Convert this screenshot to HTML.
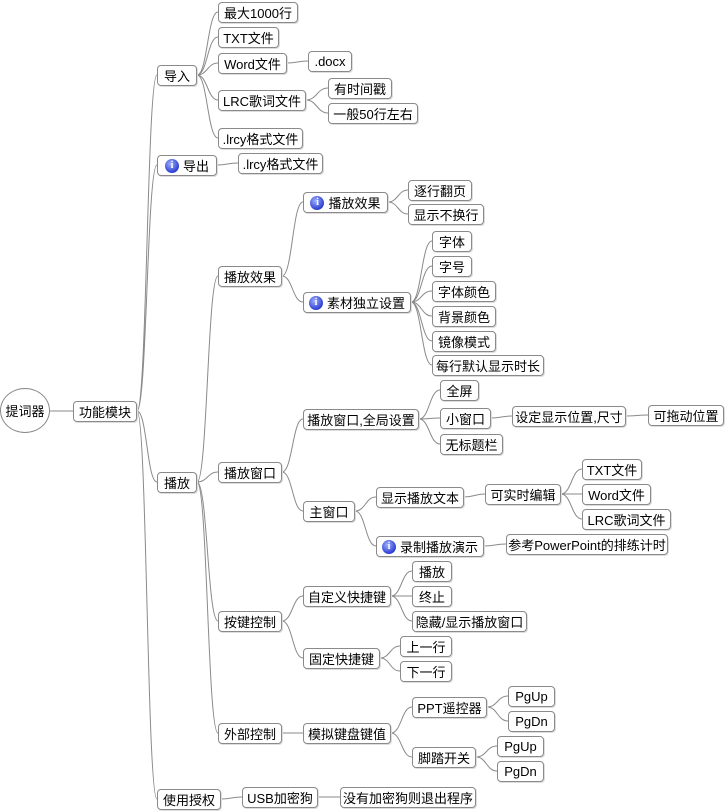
<!DOCTYPE html>
<html><head><meta charset="utf-8">
<style>
html,body{margin:0;padding:0;background:#fff;}
#c{position:relative;width:725px;height:811px;overflow:hidden;font-family:"Liberation Sans","Noto Sans CJK SC",sans-serif;font-size:13px;color:#000;}
.n{position:absolute;height:21px;border:1px solid #8a8a8a;border-radius:4px;background:#fff;box-sizing:border-box;display:flex;align-items:center;justify-content:center;white-space:nowrap;box-shadow:1px 1px 0 #ddd;}
.i{display:inline-block;width:14px;height:14px;border-radius:50%;background:radial-gradient(circle at 40% 35%,#9fb0ff,#2d3fd0 70%);color:#fff;font:bold 10px "Liberation Serif",serif;line-height:14px;text-align:center;margin-right:4px;}
.root{position:absolute;left:0;top:388px;width:50px;height:45px;border:1px solid #888;border-radius:50%;box-sizing:border-box;display:flex;align-items:center;justify-content:center;font-size:13px;background:#fff;}
svg{position:absolute;left:0;top:0;}
</style></head><body>
<div id="c">
<svg id="s" width="725" height="811"></svg>
<div class="root">提词器</div>
</div>
<script>
var N=[
["功能模块",73,137,411,-1],
["导入",157,197,75,0],
["导出",157,217,165,0,1],
["播放",157,197,482,0],
["使用授权",157,221,799,0],
["最大1000行",218,298,12,1],
["TXT文件",218,279,37,1],
["Word文件",218,287,63,1],
["LRC歌词文件",218,306,100,1],
[".lrcy格式文件",218,303,138,1],
[".docx",308,352,61,7],
["有时间戳",328,392,88,8],
["一般50行左右",328,418,113,8],
[".lrcy格式文件",238,323,163,2],
["播放效果",218,282,276,3],
["播放窗口",218,282,472,3],
["按键控制",218,282,621,3],
["外部控制",218,282,733,3],
["播放效果",303,388,202,14,1],
["素材独立设置",303,411,302,14,1],
["逐行翻页",408,472,190,18],
["显示不换行",408,484,214,18],
["字体",432,472,241,19],
["字号",432,472,266,19],
["字体颜色",432,496,291,19],
["背景颜色",432,496,316,19],
["镜像模式",432,496,341,19],
["每行默认显示时长",432,544,365,19],
["播放窗口,全局设置",303,419,419,15],
["主窗口",303,355,511,15],
["全屏",440,479,390,28],
["小窗口",440,491,418,28],
["无标题栏",440,503,444,28],
["设定显示位置,尺寸",512,626,416,31],
["可拖动位置",648,724,415,33],
["显示播放文本",376,464,497,29],
["录制播放演示",376,484,546,29,1],
["可实时编辑",485,561,494,35],
["TXT文件",582,642,469,37],
["Word文件",582,651,494,37],
["LRC歌词文件",582,671,519,37],
["参考PowerPoint的排练计时",506,668,544,36],
["自定义快捷键",303,391,596,16],
["固定快捷键",303,380,658,16],
["播放",412,452,571,42],
["终止",412,452,596,42],
["隐藏/显示播放窗口",412,527,621,42],
["上一行",400,452,646,43],
["下一行",400,452,671,43],
["模拟键盘键值",303,391,733,17],
["PPT遥控器",412,487,707,49],
["脚踏开关",412,476,757,49],
["PgUp",508,555,696,50],
["PgDn",508,555,721,50],
["PgUp",497,544,746,51],
["PgDn",497,544,771,51],
["USB加密狗",242,318,797,4],
["没有加密狗则退出程序",340,476,797,56]
];
var c=document.getElementById('c'),s=document.getElementById('s'),p='';
N.forEach(function(n){
  var d=document.createElement('div');d.className='n';
  d.style.left=n[1]+'px';d.style.top=(n[3]-10)+'px';d.style.width=(n[2]-n[1])+'px';
  d.innerHTML=(n[5]?'<span class="i">i</span>':'')+n[0];
  c.appendChild(d);
  var px,py;
  if(n[4]<0){px=50;py=411;}else{var q=N[n[4]];px=q[2];py=q[3];}
  var x=n[1],y=n[3],m=(px+x)/2;
  p+='M'+px+','+py+' C'+m+','+py+' '+m+','+y+' '+x+','+y+' ';
});
s.innerHTML='<path d="'+p+'" fill="none" stroke="#8a8a8a" stroke-width="1"/>';
</script>
</body></html>
